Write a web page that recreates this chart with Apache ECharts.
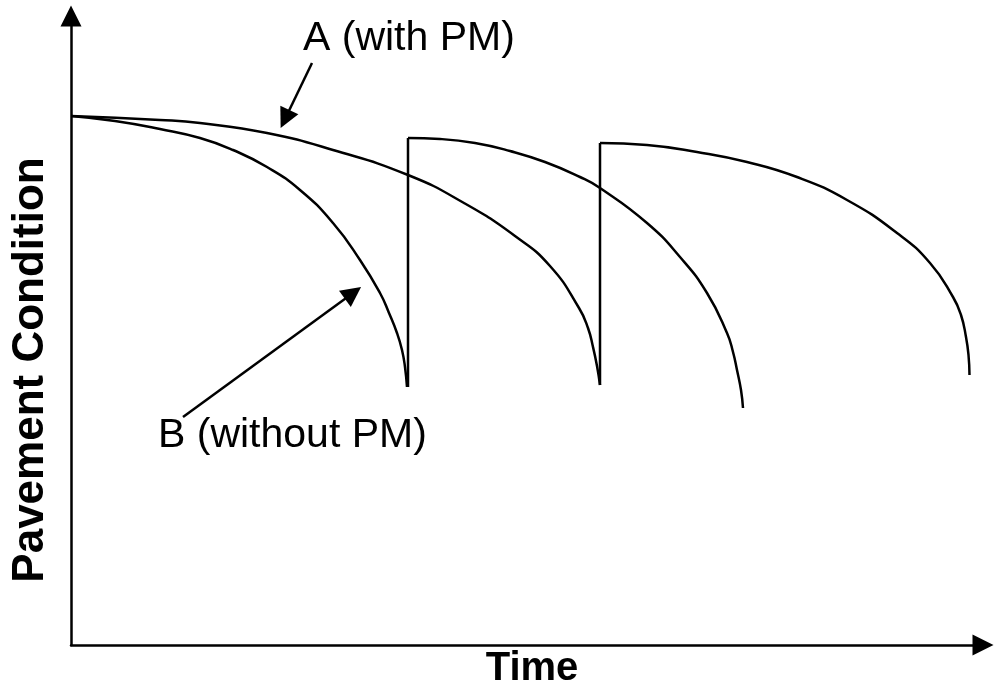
<!DOCTYPE html>
<html>
<head>
<meta charset="utf-8">
<script src="https://cdn.jsdelivr.net/npm/echarts@6/dist/echarts.min.js"></script>
<style>
  html, body { margin: 0; padding: 0; background: #fff; }
  #chart { width: 994px; height: 694px; }
</style>
</head>
<body>
<div id="chart"></div>
<script>
// time / condition (axis units: 10px each)
const bArc1T = [0, 4.4, 8.9, 12.9, 16.2, 19.6, 22.9, 26.2, 28.9, 30.9, 31.8, 32.6, 33.1, 33.4, 33.6]
const bArc1C = [52.9, 52.4, 51.6, 50.7, 49.5, 47.8, 45.5, 42.2, 38.5, 35.2, 33.2, 31.2, 29.5, 27.8, 25.8]
const bJumpT = [33.7, 33.7]
const bJumpC = [25.8, 50.7]
const bArc2T = [33.7, 36.9, 40.4, 43.9, 47.4, 50.9, 52.9, 57.6, 60.9, 63.6, 65.6, 66.2, 66.6, 67.0, 67.2]
const bArc2C = [50.7, 50.6, 50.2, 49.4, 48.3, 46.8, 45.7, 42.2, 38.8, 35.2, 31.2, 29.3, 27.5, 25.5, 23.7]

const aArc1T = [0, 8.9, 12.9, 19.6, 26.2, 33.7, 39.3, 44.4, 47.9, 50.8, 51.7, 52.2, 52.6, 52.9]
const aArc1C = [52.9, 52.5, 52.2, 51.2, 49.5, 47.0, 44.2, 40.9, 37.9, 33.7, 31.7, 29.8, 27.9, 26.0]
const aJumpT = [52.9, 52.9]
const aJumpC = [26.0, 50.2]
const aArc2T = [52.9, 57.6, 62.6, 67.6, 72.6, 77.6, 82.6, 85.9, 88.2, 89.0, 89.5, 89.75, 89.85]
const aArc2C = [50.2, 50.0, 49.3, 48.3, 46.8, 44.5, 41.2, 38.2, 34.8, 33.0, 30.8, 29.0, 27.0]

// label arrows: [from, to] in data units
const arrowA = [[24.1, 58.2], [21.4, 52.6]]
const arrowB = [[11.2, 22.8], [28.2, 35.2]]

const labelA = 'A (with PM)'
const labelB = 'B (without PM)'
const xName = 'Time'
const yName = 'Pavement Condition'

const zip = (t, c) => t.map((v, i) => [v, c[i]])

const chart = echarts.init(document.getElementById('chart'))

const curve = (t, c, smooth) => ({
  type: 'line',
  data: zip(t, c),
  smooth: smooth ? 0.5 : false,
  smoothMonotone: 'none',
  symbol: 'none',
  silent: true,
  lineStyle: { color: '#000', width: 2.5 },
})

const axisLine = () => ({
  show: true,
  symbol: ['none', 'triangle'],
  symbolSize: [21, 21],
  lineStyle: { color: '#000', width: 2.5 },
})

chart.setOption({
  backgroundColor: '#fff',
  animation: false,
  grid: { left: 71, right: 11, top: 16, bottom: 49 },
  xAxis: {
    type: 'value',
    min: 0,
    max: 91.2,
    axisLine: axisLine(),
    axisTick: { show: false },
    axisLabel: { show: false },
    splitLine: { show: false },
  },
  yAxis: {
    type: 'value',
    min: 0,
    max: 62.9,
    axisLine: axisLine(),
    axisTick: { show: false },
    axisLabel: { show: false },
    splitLine: { show: false },
  },
  series: [
    curve(bArc1T, bArc1C, true),
    curve(bJumpT, bJumpC, false),
    curve(bArc2T, bArc2C, true),
    curve(aArc1T, aArc1C, true),
    curve(aJumpT, aJumpC, false),
    curve(aArc2T, aArc2C, true),
    {
      type: 'lines',
      coordinateSystem: 'cartesian2d',
      silent: true,
      symbol: ['none', 'triangle'],
      symbolSize: 20,
      lineStyle: { color: '#000', width: 2.5, opacity: 1, curveness: 0 },
      itemStyle: { color: '#000' },
      data: [{ coords: arrowA }, { coords: arrowB }],
    },
  ],
  graphic: [
    {
      type: 'text', x: 303, y: 39,
      style: { text: labelA, font: '41px "Liberation Sans", Arial, sans-serif', fill: '#000', align: 'left', verticalAlign: 'middle' },
    },
    {
      type: 'text', x: 158, y: 436,
      style: { text: labelB, font: '41px "Liberation Sans", Arial, sans-serif', fill: '#000', align: 'left', verticalAlign: 'middle' },
    },
    {
      type: 'text', x: 532, y: 669,
      style: { text: xName, font: 'bold 40px "Liberation Sans", Arial, sans-serif', fill: '#000', align: 'center', verticalAlign: 'middle' },
    },
    {
      type: 'text', x: 31, y: 370, rotation: Math.PI / 2,
      style: { text: yName, font: 'bold 44px "Liberation Sans", Arial, sans-serif', fill: '#000', align: 'center', verticalAlign: 'middle' },
    },
  ],
})
</script>
</body>
</html>
